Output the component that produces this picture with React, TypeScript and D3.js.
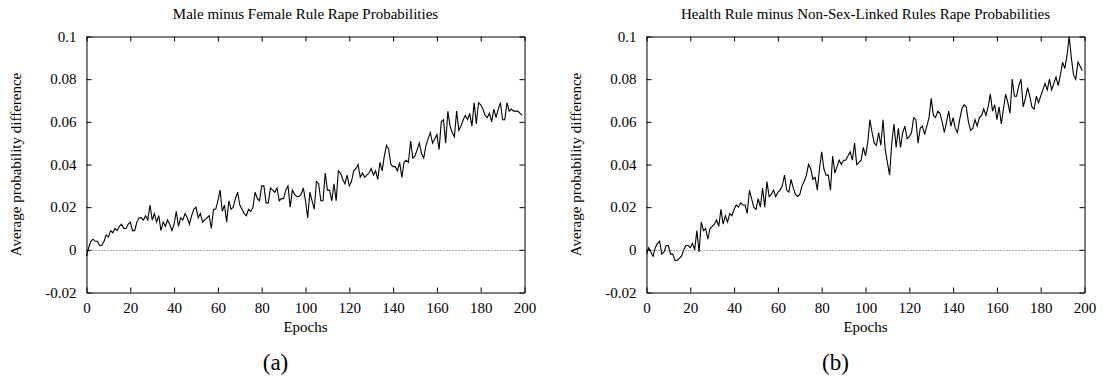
import React, { useEffect, useRef } from "react";
import * as d3 from "d3";

// x axis: epochs, y axis: probability difference
const epochTicks = [0, 20, 40, 60, 80, 100, 120, 140, 160, 180, 200];
const probTicks = [-0.02, 0, 0.02, 0.04, 0.06, 0.08, 0.1];

// (a) male minus female rule, one value per epoch 0..199
const maleMinusFemale = [
  -0.003, 0.001, 0.004, 0.005, 0.004, 0.004, 0.002, 0.002, 0.004, 0.007,
  0.006, 0.009, 0.008, 0.010, 0.009, 0.011, 0.012, 0.010, 0.010, 0.012,
  0.013, 0.009, 0.009, 0.013, 0.015, 0.015, 0.014, 0.016, 0.014, 0.021,
  0.014, 0.017, 0.013, 0.016, 0.009, 0.013, 0.011, 0.014, 0.012, 0.009,
  0.012, 0.018, 0.011, 0.015, 0.014, 0.017, 0.015, 0.012, 0.016, 0.019,
  0.020, 0.015, 0.017, 0.013, 0.014, 0.015, 0.016, 0.010, 0.019, 0.019,
  0.023, 0.028, 0.018, 0.021, 0.013, 0.023, 0.019, 0.020, 0.024, 0.027,
  0.021, 0.019, 0.017, 0.016, 0.019, 0.018, 0.020, 0.027, 0.024, 0.023,
  0.030, 0.030, 0.022, 0.022, 0.029, 0.028, 0.027, 0.029, 0.023, 0.024,
  0.024, 0.028, 0.030, 0.020, 0.028, 0.026, 0.025, 0.025, 0.026, 0.029,
  0.023, 0.015, 0.027, 0.023, 0.019, 0.032, 0.031, 0.023, 0.023, 0.036,
  0.028, 0.028, 0.023, 0.031, 0.023, 0.037, 0.036, 0.033, 0.031, 0.035,
  0.030, 0.032, 0.037, 0.038, 0.040, 0.034, 0.036, 0.034, 0.035, 0.036,
  0.038, 0.035, 0.037, 0.033, 0.041, 0.037, 0.044, 0.049, 0.047, 0.040,
  0.039, 0.039, 0.037, 0.041, 0.034, 0.041, 0.042, 0.041, 0.051, 0.043,
  0.044, 0.047, 0.050, 0.045, 0.043, 0.049, 0.052, 0.055, 0.050, 0.052,
  0.054, 0.047, 0.060, 0.061, 0.050, 0.065, 0.058, 0.055, 0.053, 0.065,
  0.056, 0.058, 0.061, 0.063, 0.061, 0.064, 0.058, 0.069, 0.059, 0.069,
  0.068, 0.066, 0.063, 0.062, 0.064, 0.060, 0.066, 0.062, 0.066, 0.069,
  0.061, 0.061, 0.069, 0.065, 0.066, 0.065, 0.065, 0.065, 0.064, 0.063,
];

// (b) health rule minus non-sex-linked rules, one value per epoch 0..199
const healthMinusNonSexLinked = [
  -0.002, 0.001, -0.001, -0.003, 0.001, 0.003, 0.004, -0.002, -0.001, 0.002,
  0.002, -0.002, -0.002, -0.005, -0.005, -0.004, -0.003, 0.000, 0.002, 0.002,
  0.001, 0.003, 0.000, 0.009, -0.001, 0.013, 0.009, 0.010, 0.005, 0.010,
  0.011, 0.012, 0.014, 0.011, 0.019, 0.012, 0.016, 0.013, 0.017, 0.016,
  0.019, 0.021, 0.020, 0.022, 0.021, 0.021, 0.017, 0.028, 0.024, 0.020,
  0.019, 0.024, 0.020, 0.029, 0.020, 0.032, 0.025, 0.026, 0.028, 0.025,
  0.027, 0.028, 0.030, 0.035, 0.028, 0.027, 0.033, 0.029, 0.026, 0.025,
  0.026, 0.030, 0.032, 0.035, 0.040, 0.038, 0.033, 0.034, 0.028, 0.038,
  0.046, 0.038, 0.035, 0.035, 0.028, 0.044, 0.036, 0.039, 0.042, 0.040,
  0.042, 0.042, 0.044, 0.046, 0.042, 0.050, 0.040, 0.041, 0.042, 0.048,
  0.044, 0.050, 0.061, 0.055, 0.050, 0.049, 0.055, 0.049, 0.061, 0.047,
  0.041, 0.035, 0.050, 0.059, 0.048, 0.057, 0.048, 0.055, 0.058, 0.052,
  0.053, 0.055, 0.062, 0.061, 0.050, 0.057, 0.058, 0.054, 0.058, 0.062,
  0.071, 0.063, 0.062, 0.065, 0.064, 0.060, 0.055, 0.060, 0.065, 0.058,
  0.062, 0.057, 0.055, 0.061, 0.066, 0.068, 0.067, 0.060, 0.056, 0.057,
  0.061, 0.058, 0.062, 0.063, 0.066, 0.063, 0.067, 0.073, 0.065, 0.068,
  0.061, 0.067, 0.059, 0.066, 0.073, 0.069, 0.064, 0.080, 0.072, 0.072,
  0.077, 0.080, 0.067, 0.071, 0.076, 0.072, 0.067, 0.066, 0.072, 0.069,
  0.072, 0.075, 0.078, 0.075, 0.080, 0.075, 0.078, 0.081, 0.077, 0.082,
  0.088, 0.085, 0.091, 0.100, 0.090, 0.082, 0.080, 0.088, 0.086, 0.084,
];

const titles = [
  "Male minus Female Rule Rape Probabilities",
  "Health Rule minus Non-Sex-Linked Rules Rape Probabilities",
];
const tags = ["(a)", "(b)"];

const W = 1107;
const H = 377;
const plotTop = 36.5;
const plotBottom = 292.5;
const plotWidth = 438;
const panelLeft = [86.5, 646.5];
const font = "'Liberation Serif', 'Times New Roman', serif";

const fmt = (d) => (d === 0 ? "0" : String(+d.toFixed(2)));

const App = () => {
  const svgRef = useRef(null);

  useEffect(() => {
    const svg = d3.select(svgRef.current);
    svg.selectAll("*").remove();

    const series = [maleMinusFemale, healthMinusNonSexLinked];

    series.forEach((values, k) => {
      const x0 = panelLeft[k];
      const x = d3.scaleLinear().domain([0, 200]).range([x0, x0 + plotWidth]);
      const y = d3
        .scaleLinear()
        .domain([-0.02, 0.1])
        .range([plotBottom, plotTop]);

      const g = svg.append("g");

      // zero reference line (dotted)
      g.append("line")
        .attr("x1", x(0))
        .attr("x2", x(200))
        .attr("y1", Math.round(y(0)) + 0.5)
        .attr("y2", Math.round(y(0)) + 0.5)
        .attr("stroke", "#555")
        .attr("stroke-dasharray", "1,2");

      // the data
      const line = d3
        .line()
        .x((d, i) => x(i))
        .y((d) => y(d));
      g.append("path")
        .datum(values)
        .attr("d", line)
        .attr("fill", "none")
        .attr("stroke", "#000")
        .attr("stroke-width", 1.1)
        .attr("stroke-linejoin", "miter");

      // axes, ticks point inward and are mirrored
      const styleAxis = (a) => {
        a.selectAll("path").attr("stroke", "#000").attr("stroke-width", 1);
        a.selectAll("line").attr("stroke", "#000");
        a.attr("font-family", font).attr("font-size", 15);
        a.selectAll("text").attr("fill", "#000");
      };

      g.append("g")
        .attr("transform", `translate(0,${plotBottom})`)
        .call(
          d3
            .axisBottom(x)
            .tickValues(epochTicks)
            .tickSizeInner(-5)
            .tickSizeOuter(0)
            .tickPadding(10)
            .tickFormat((d) => String(d))
        )
        .call(styleAxis);

      g.append("g")
        .attr("transform", `translate(0,${plotTop})`)
        .call(
          d3
            .axisTop(x)
            .tickValues(epochTicks)
            .tickSizeInner(-5)
            .tickSizeOuter(0)
            .tickFormat(() => "")
        )
        .call(styleAxis);

      g.append("g")
        .attr("transform", `translate(${x0},0)`)
        .call(
          d3
            .axisLeft(y)
            .tickValues(probTicks)
            .tickSizeInner(-5)
            .tickSizeOuter(0)
            .tickPadding(10)
            .tickFormat(fmt)
        )
        .call(styleAxis);

      g.append("g")
        .attr("transform", `translate(${x0 + plotWidth},0)`)
        .call(
          d3
            .axisRight(y)
            .tickValues(probTicks)
            .tickSizeInner(-5)
            .tickSizeOuter(0)
            .tickFormat(() => "")
        )
        .call(styleAxis);

      // title
      g.append("text")
        .attr("x", x0 + plotWidth / 2)
        .attr("y", 18.5)
        .attr("text-anchor", "middle")
        .attr("font-family", font)
        .attr("font-size", 15)
        .text(titles[k]);

      // axis labels
      g.append("text")
        .attr("x", x0 + plotWidth / 2)
        .attr("y", 332)
        .attr("text-anchor", "middle")
        .attr("font-family", font)
        .attr("font-size", 15)
        .text("Epochs");

      g.append("text")
        .attr(
          "transform",
          `translate(${x0 - 66},${(plotTop + plotBottom) / 2}) rotate(-90)`
        )
        .attr("text-anchor", "middle")
        .attr("font-family", font)
        .attr("font-size", 15)
        .text("Average probability difference");

      // sub-figure tag
      g.append("text")
        .attr("x", x0 + plotWidth / 2 - 30)
        .attr("y", 370)
        .attr("text-anchor", "middle")
        .attr("font-family", font)
        .attr("font-size", 23)
        .text(tags[k]);
    });
  }, []);

  return (
    <svg
      ref={svgRef}
      width={W}
      height={H}
      viewBox={`0 0 ${W} ${H}`}
      style={{ position: "absolute", left: 0, top: 0, background: "#fff" }}
    />
  );
};

export default App;
